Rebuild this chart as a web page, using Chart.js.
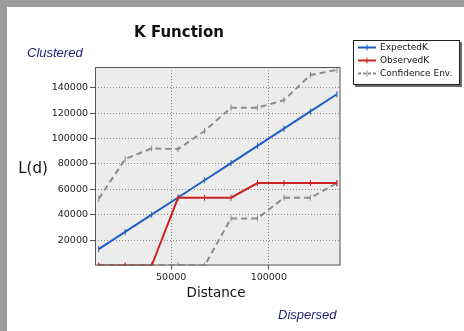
<!DOCTYPE html>
<html>
<head>
<meta charset="utf-8">
<script src="https://cdn.jsdelivr.net/npm/chart.js@4"></script>
<style>
  html, body { margin: 0; padding: 0; background: #9c9c9c; }
  #wrap { position: relative; width: 464px; height: 331px; }
</style>
</head>
<body>
<div id="wrap"><canvas id="c" width="464" height="331"></canvas></div>
<script>
// Distance bands and K-function results
const distances  = [12900, 26450, 40000, 53550, 67100, 80650, 94200, 107750, 121300, 134850];
const expectedK  = [12900, 26450, 40000, 53550, 67100, 80650, 94200, 107750, 121300, 134850];
const observedK  = [0, 0, 0, 53350, 53350, 53350, 64900, 64900, 64900, 64900];
const upperEnv   = [52500, 83850, 92200, 91600, 105900, 124300, 124300, 130200, 150000, 154000];
const lowerEnv   = [0, 0, 0, 0, 0, 37100, 37100, 53350, 53350, 64800];
const yTickValues = [20000, 40000, 60000, 80000, 100000, 120000, 140000];
const xTickValues = [50000, 100000];
const seriesNames = ['ExpectedK', 'ObservedK', 'Confidence Env.'];

const BLUE = '#1f5fc4', RED = '#cc2222', GRAY = '#8c8c8c';
const pts = arr => distances.map((d, i) => ({ x: d, y: arr[i] }));

const marker = color => ({
  pointStyle: 'line', rotation: 90, pointRadius: 3, pointBorderWidth: 1,
  pointBorderColor: color, pointBackgroundColor: color
});

const frame = {
  id: 'frame',
  beforeDraw(chart) {
    const { ctx, chartArea: a } = chart;
    ctx.save();
    ctx.fillStyle = '#9c9c9c';
    ctx.fillRect(0, 0, 464, 331);
    ctx.fillStyle = '#ffffff';
    ctx.fillRect(7, 7, 457, 324);
    ctx.fillStyle = '#ececec';
    ctx.fillRect(a.left, a.top, a.right - a.left, a.bottom - a.top);
    ctx.restore();
  },
  afterDraw(chart) {
    const { ctx, chartArea: a } = chart;
    ctx.save();
    // plot border
    ctx.strokeStyle = '#555';
    ctx.lineWidth = 1;
    ctx.strokeRect(a.left + 0.5, a.top + 0.5, a.right - a.left - 1, a.bottom - a.top - 1);

    // title and axis captions
    ctx.fillStyle = '#111';
    ctx.textAlign = 'center';
    ctx.textBaseline = 'alphabetic';
    ctx.font = 'bold 15px "DejaVu Sans"';
    ctx.fillText('K Function', 179, 37);
    ctx.font = '15px "DejaVu Sans"';
    ctx.fillText('L(d)', 33, 173);
    ctx.font = '13.5px "DejaVu Sans"';
    ctx.fillText('Distance', 216, 297);

    ctx.fillStyle = '#22237a';
    ctx.font = 'italic 13px "Liberation Sans"';
    ctx.textAlign = 'left';
    ctx.fillText('Clustered', 27, 57);
    ctx.fillText('Dispersed', 278, 319);

    // legend box
    const lx = 353, ly = 40, lw = 107, lh = 45;
    ctx.fillStyle = '#6a6a6a';
    ctx.fillRect(lx + 2, ly + 2, lw, lh);
    ctx.fillStyle = '#ffffff';
    ctx.fillRect(lx, ly, lw, lh);
    ctx.strokeStyle = '#222';
    ctx.strokeRect(lx + 0.5, ly + 0.5, lw - 1, lh - 1);

    const colors = [BLUE, RED, GRAY];
    const dashes = [[], [], [3, 2]];
    ctx.font = '9px "DejaVu Sans"';
    ctx.textBaseline = 'middle';
    seriesNames.forEach((name, i) => {
      const y = 47.5 + i * 13;
      ctx.strokeStyle = colors[i];
      ctx.lineWidth = 2;
      ctx.setLineDash(dashes[i]);
      ctx.beginPath();
      ctx.moveTo(358, y);
      ctx.lineTo(376, y);
      ctx.stroke();
      ctx.setLineDash([]);
      ctx.lineWidth = 1;
      ctx.beginPath();
      ctx.moveTo(367, y - 3);
      ctx.lineTo(367, y + 3);
      ctx.stroke();
      ctx.fillStyle = '#111';
      ctx.fillText(name, 380, y);
    });
    ctx.restore();
  }
};

new Chart(document.getElementById('c'), {
  type: 'line',
  data: {
    datasets: [
      { label: seriesNames[1], data: pts(observedK), borderColor: RED, borderWidth: 2, ...marker(RED) },
      { label: seriesNames[0], data: pts(expectedK), borderColor: BLUE, borderWidth: 2, ...marker(BLUE) },
      { label: seriesNames[2], data: pts(upperEnv), borderColor: GRAY, borderWidth: 2, borderDash: [6, 4], ...marker(GRAY) },
      { label: seriesNames[2] + ' low', data: pts(lowerEnv), borderColor: GRAY, borderWidth: 2, borderDash: [6, 4], ...marker(GRAY) }
    ]
  },
  options: {
    responsive: false,
    animation: false,
    events: [],
    layout: { padding: { left: 0, top: 67, right: 123.5, bottom: 0 } },
    plugins: { legend: { display: false }, tooltip: { enabled: false }, title: { display: false } },
    scales: {
      x: {
        type: 'linear', min: 11000, max: 136700,
        afterBuildTicks: s => { s.ticks = xTickValues.map(v => ({ value: v })); },
        afterFit: s => { s.height = 65.5; },
        grid: { color: '#8a8a8a', tickColor: '#555', tickLength: 4 },
        border: { display: false, dash: [1, 2] },
        ticks: { color: '#222', font: { family: 'DejaVu Sans', size: 9.5 }, padding: 2, maxRotation: 0,
                 callback: v => String(v) }
      },
      y: {
        type: 'linear', min: 0, max: 156300,
        afterBuildTicks: s => { s.ticks = yTickValues.map(v => ({ value: v })); },
        afterFit: s => { s.width = 95; },
        grid: { color: '#8a8a8a', tickColor: '#555', tickLength: 5 },
        border: { display: false, dash: [1, 2] },
        ticks: { color: '#222', font: { family: 'DejaVu Sans', size: 9.5 }, padding: 2,
                 callback: v => String(v) }
      }
    }
  },
  plugins: [frame]
});
</script>
</body>
</html>
